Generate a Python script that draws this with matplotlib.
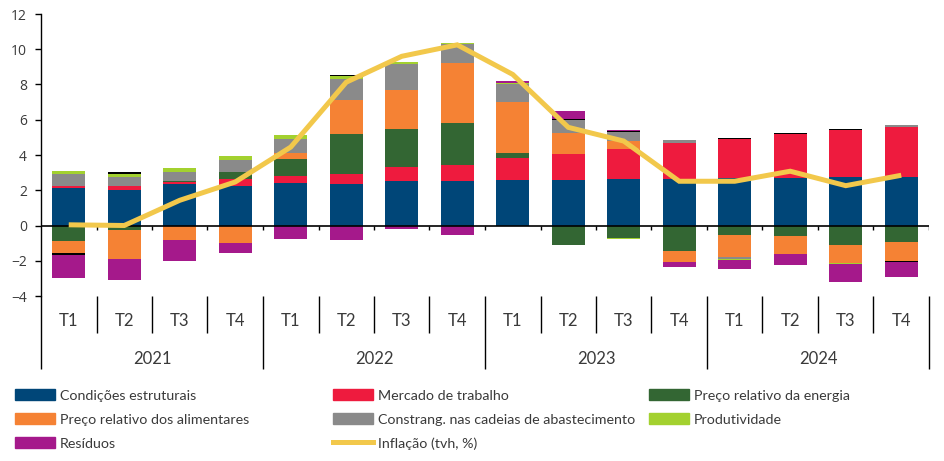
import numpy as np
import matplotlib
matplotlib.use('Agg')
import matplotlib.pyplot as plt
from matplotlib.patches import Patch
from matplotlib.lines import Line2D
import matplotlib.transforms as mtransforms

# Dados (contributos, p.p.)
trimestres = ["T1", "T2", "T3", "T4"] * 4
anos = ["2021", "2022", "2023", "2024"]

condicoes = [2.11, 2.00, 2.34, 2.26, 2.40, 2.36, 2.51, 2.51, 2.57, 2.57, 2.62, 2.62, 2.68, 2.70, 2.74, 2.74]
mercado = [0.13, 0.23, 0.13, 0.36, 0.42, 0.57, 0.79, 0.91, 1.26, 1.47, 1.70, 2.04, 2.23, 2.49, 2.68, 2.83]
energia = [-0.87, -0.26, 0.06, 0.40, 0.94, 2.25, 2.15, 2.38, 0.26, -1.11, -0.70, -1.45, -0.55, -0.60, -1.11, -0.94]
alimentares = [-0.68, -1.64, -0.83, -1.00, 0.34, 1.94, 2.26, 3.40, 2.94, 1.19, 0.45, -0.62, -1.25, -1.02, -1.02, -1.08]
constrang = [0.66, 0.53, 0.49, 0.68, 0.81, 1.19, 1.43, 1.09, 1.02, 0.75, 0.53, 0.17, -0.09, 0.0, 0.0, 0.11]
produtividade = [0.17, 0.15, 0.25, 0.25, 0.21, 0.15, 0.11, 0.06, 0.04, 0.0, -0.06, 0.0, -0.06, 0.0, -0.06, 0.0]
outros = [-0.11, 0.11, 0.0, 0.0, 0.0, 0.06, 0.04, 0.0, 0.0, 0.04, 0.04, 0.0, 0.06, 0.06, 0.06, -0.06]
residuos = [-1.30, -1.19, -1.19, -0.57, -0.77, -0.83, -0.21, -0.55, 0.09, 0.45, 0.09, -0.28, -0.53, -0.62, -1.02, -0.85]
inflacao = [0.04, 0.0, 1.43, 2.47, 4.45, 8.13, 9.6, 10.25, 8.57, 5.57, 4.79, 2.51, 2.51, 3.08, 2.26, 2.85]

series = [
    ("Condições estruturais", condicoes, "#004678"),
    ("Mercado de trabalho", mercado, "#EE1B3E"),
    ("Preço relativo da energia", energia, "#336633"),
    ("Preço relativo dos alimentares", alimentares, "#F58234"),
    ("Constrang. nas cadeias de abastecimento", constrang, "#8A8A8A"),
    ("Produtividade", produtividade, "#A3D12F"),
    (None, outros, "#000000"),
    ("Resíduos", residuos, "#A5198B"),
]
cor_linha = "#F2C84B"
cor_texto = "#3A3A3A"
fonte = ["Lato", "Open Sans", "DejaVu Sans"]

fig = plt.figure(figsize=(9.45, 4.61), dpi=100)
ax = fig.add_axes([41 / 945, 1 - 296 / 461, 888 / 945, 282 / 461])

x = np.arange(len(trimestres))
pos = np.zeros(len(x))
neg = np.zeros(len(x))
for nome, vals, cor in series:
    v = np.array(vals)
    bottom = np.where(v >= 0, pos, neg)
    ax.bar(x, v, 0.6, bottom=bottom, color=cor, linewidth=0, zorder=2)
    pos = pos + np.clip(v, 0, None)
    neg = neg + np.clip(v, None, 0)

ax.plot(x, inflacao, color=cor_linha, lw=3.6, solid_capstyle='butt', solid_joinstyle='miter', zorder=4)

ax.set_xlim(-0.5, len(x) - 0.5)
ax.set_ylim(-4, 12)
ax.set_yticks(range(-4, 13, 2))
ax.tick_params(axis='y', length=4, width=1, color='black', labelsize=10, labelcolor=cor_texto, pad=6)
for lbl in ax.get_yticklabels():
    lbl.set_family(["Open Sans", "DejaVu Sans"])

for s in ["top", "right", "bottom"]:
    ax.spines[s].set_visible(False)
ax.spines["left"].set_linewidth(1)

# linha do zero com pequenos tracos
ax.axhline(0, color='black', lw=1.2, zorder=3)
limites = np.arange(len(x) + 1) - 0.5
ax.vlines(limites[1:], -0.28, 0, color='black', lw=1, zorder=3)

# eixo das categorias
ax.set_xticks(limites[::4])
ax.set_xticks([b for i, b in enumerate(limites) if i % 4 != 0], minor=True)
ax.tick_params(axis='x', which='major', length=52.5, width=1, color='black', labelbottom=False)
ax.tick_params(axis='x', which='minor', length=26.5, width=1, color='black', labelbottom=False)

trans = mtransforms.blended_transform_factory(ax.transData, ax.transAxes)
for i, t in enumerate(trimestres):
    ax.text(x[i], -0.087, t, transform=trans, ha='center', va='center',
            fontsize=12, family=fonte, color=cor_texto)
for j, a in enumerate(anos):
    ax.text(4 * j + 1.5, -0.222, a, transform=trans, ha='center', va='center',
            fontsize=12, family=fonte, color=cor_texto)

# legenda em tres colunas
handles = [Patch(color=c, label=n) for n, _, c in series if n is not None]
handles.append(Line2D([], [], color=cor_linha, lw=3.6, label="Inflação (tvh, %)"))
colunas = [[handles[0], handles[3], handles[6]],
           [handles[1], handles[4], handles[7]],
           [handles[2], handles[5]]]
xs = [15, 333, 649]
for hs, xc in zip(colunas, xs):
    fig.legend(handles=hs, loc='upper left', bbox_to_anchor=(xc / 945, 1 - 389 / 461),
               frameon=False, borderpad=0, borderaxespad=0,
               handlelength=2.8, handleheight=0.84, handletextpad=0.34, labelspacing=0.8,
               prop={'family': fonte, 'size': 10.3}, labelcolor=cor_texto)

fig.savefig("out.png", dpi=100)
